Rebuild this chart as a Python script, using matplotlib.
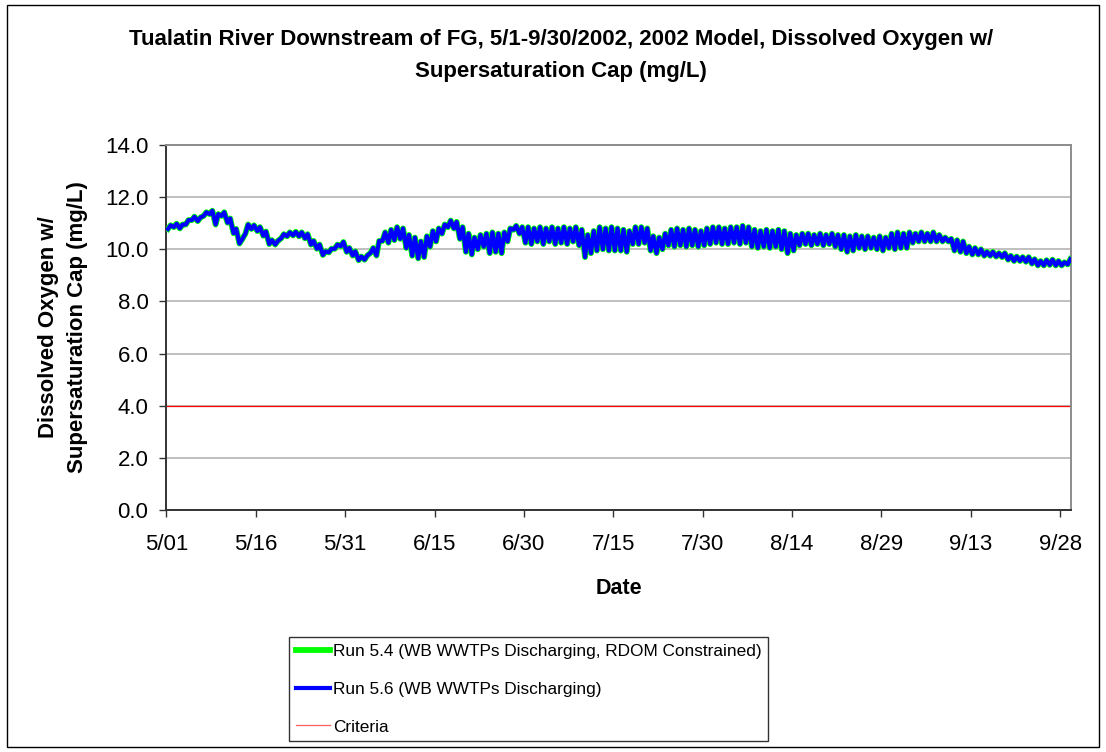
import matplotlib
matplotlib.use("Agg")
import matplotlib.pyplot as plt
import numpy as np
from matplotlib.patches import Rectangle

plt.rcParams["font.family"] = ["Liberation Sans", "DejaVu Sans"]

# daily low / high DO (mg/L), days from 5/01
run56_lo = [10.78, 10.85, 10.8, 10.95, 11.12, 11.08, 11.28, 11.35, 10.95, 11.28,
            11.02, 10.62, 10.22, 10.6, 10.78, 10.7, 10.52, 10.2, 10.18, 10.42,
            10.5, 10.53, 10.5, 10.42, 10.18, 10.02, 9.78, 9.88, 10.02, 10.12,
            9.9, 9.76, 9.58, 9.6, 9.86, 9.76, 10.32,
            10.25, 10.35, 10.4, 10.05, 9.75, 9.65, 9.7, 10.1, 10.3, 10.6,
            10.85, 10.8, 10.4, 9.9, 9.8, 10.0, 10.1, 9.85, 9.9, 9.85,
            10.3, 10.75, 10.6, 10.25, 10.2, 10.3, 10.2, 10.3, 10.2, 10.25,
            10.2, 10.3, 10.15, 9.7, 9.85, 9.95, 10.0, 9.95, 9.95,
            9.95, 9.9, 10.2, 10.2, 10.25, 9.95, 9.85, 10.0, 10.15, 10.1,
            10.15, 10.1, 10.15, 10.1, 10.15, 10.2, 10.25, 10.2, 10.2, 10.25,
            10.2, 10.25, 10.1, 10.05, 10.1, 10.05, 10.1, 10.0, 9.85, 9.95,
            10.15, 10.2, 10.15, 10.2, 10.15, 10.2, 10.1,
            10.0, 9.9, 9.95, 10.05, 10.0, 10.05, 10.0, 9.95, 10.05, 10.0,
            10.05, 10.05, 10.25, 10.3, 10.3, 10.3, 10.3, 10.3, 10.3, 9.95,
            9.9, 9.85, 9.8, 9.8, 9.75, 9.75, 9.72, 9.7, 9.6, 9.55,
            9.55, 9.52, 9.45, 9.38, 9.38, 9.4, 9.38, 9.38, 9.42]
run56_hi = [10.92, 10.98, 10.95, 11.12, 11.25, 11.22, 11.42, 11.48, 11.35, 11.42,
            11.18, 10.78, 10.38, 10.95, 10.92, 10.85, 10.68, 10.35, 10.32, 10.58,
            10.65, 10.67, 10.65, 10.58, 10.32, 10.18, 9.92, 10.02, 10.18, 10.28,
            10.05, 9.92, 9.72, 9.76, 10.05, 10.32, 10.65,
            10.75, 10.85, 10.8, 10.55, 10.45, 10.3, 10.5, 10.7, 10.8, 10.95,
            11.1, 11.05, 10.85, 10.6, 10.45, 10.55, 10.6, 10.65, 10.6, 10.65,
            10.8, 10.9, 10.85, 10.85, 10.8, 10.85, 10.8, 10.85, 10.8, 10.85,
            10.8, 10.85, 10.75, 10.55, 10.7, 10.85, 10.8, 10.85, 10.8,
            10.75, 10.7, 10.85, 10.85, 10.8, 10.5, 10.45, 10.6, 10.75, 10.8,
            10.75, 10.8, 10.75, 10.7, 10.8, 10.85, 10.85, 10.8, 10.85, 10.85,
            10.9, 10.85, 10.75, 10.7, 10.75, 10.7, 10.75, 10.7, 10.6, 10.55,
            10.6, 10.6, 10.55, 10.6, 10.55, 10.6, 10.55,
            10.55, 10.5, 10.55, 10.5, 10.5, 10.45, 10.5, 10.45, 10.6, 10.65,
            10.6, 10.65, 10.6, 10.65, 10.6, 10.65, 10.55, 10.45, 10.4, 10.35,
            10.3, 10.1, 10.05, 10.0, 9.9, 9.9, 9.85, 9.85, 9.75, 9.72,
            9.7, 9.7, 9.62, 9.55, 9.58, 9.6, 9.55, 9.5, 9.62]
# Run 5.4 is indistinguishable from Run 5.6 at this scale
run54_lo = list(run56_lo)
run54_hi = list(run56_hi)
criteria = 4.0

tick_days = [0, 15, 30, 45, 60, 75, 90, 105, 120, 135, 150]
tick_labels = ["5/01", "5/16", "5/31", "6/15", "6/30", "7/15", "7/30", "8/14", "8/29", "9/13", "9/28"]

def series(lo, hi):
    t, v = [], []
    for d in range(len(lo)):
        t += [d + 0.25, d + 0.7]
        v += [lo[d], hi[d]]
    return np.array(t), np.array(v)

fig = plt.figure(figsize=(11.06, 7.52), dpi=100)
fig.patch.set_facecolor("white")
fig.add_artist(Rectangle((0.006, 0.006), 0.988, 0.987, transform=fig.transFigure,
                         fill=False, edgecolor="black", lw=1.0))

ax = fig.add_axes([0.1505, 0.3218, 0.8178, 0.4854])
t54, v54 = series(run54_lo, run54_hi)
t56, v56 = series(run56_lo, run56_hi)
ax.plot(t54, v54, color="#00ff00", lw=4.2, solid_joinstyle="round", zorder=3,
        label="Run 5.4 (WB WWTPs Discharging, RDOM Constrained)")
ax.plot(t56, v56, color="#0000ff", lw=3.0, solid_joinstyle="round", zorder=4,
        label="Run 5.6 (WB WWTPs Discharging)")
ax.axhline(criteria, color="#ff0000", lw=0.9, zorder=2, label="Criteria")

ax.set_xlim(0, 151.8)
ax.set_ylim(0, 14)
ax.set_yticks(np.arange(0, 14.1, 2))
ax.set_yticklabels([f"{y:.1f}" for y in np.arange(0, 14.1, 2)])
ax.set_xticks(tick_days)
ax.set_xticklabels(tick_labels)
ax.grid(axis="y", color="#b4b4b4", lw=1.2)
ax.set_axisbelow(True)
for s in ["top", "right"]:
    ax.spines[s].set_color("#8c8c8c")
    ax.spines[s].set_linewidth(1.4)
for s in ["left", "bottom"]:
    ax.spines[s].set_color("#333333")
    ax.spines[s].set_linewidth(1.4)
ax.tick_params(axis="both", direction="out", length=5, width=1.0, color="#333333",
               labelsize=16)
ax.tick_params(axis="y", pad=8)
ax.tick_params(axis="x", pad=12)

ax.set_xlabel("Date", fontsize=15.5, fontweight="bold", labelpad=17)
fig.text(0.0435, 0.5645, "Dissolved Oxygen w/", rotation=90, fontsize=16,
         fontweight="bold", ha="center", va="center")
fig.text(0.0705, 0.5645, "Supersaturation Cap (mg/L)", rotation=90, fontsize=16,
         fontweight="bold", ha="center", va="center")

fig.text(0.507, 1 - 40 / 752, "Tualatin River Downstream of FG, 5/1-9/30/2002, 2002 Model, Dissolved Oxygen w/",
         fontsize=16, fontweight="bold", ha="center", va="center")
fig.text(0.507, 1 - 71 / 752, "Supersaturation Cap (mg/L)",
         fontsize=16, fontweight="bold", ha="center", va="center")

leg = ax.legend(loc="upper left", bbox_to_anchor=(289 / 1106, 1 - 637 / 752),
                bbox_transform=fig.transFigure, fontsize=12.4, frameon=True,
                fancybox=False, edgecolor="black", handlelength=2.0,
                handletextpad=0.15, labelspacing=1.32, borderpad=0.4,
                borderaxespad=0)
leg.get_frame().set_linewidth(1.0)
leg.get_lines()[2].set_color("#ff6060")

fig.savefig("out.png", dpi=100, facecolor="white")
